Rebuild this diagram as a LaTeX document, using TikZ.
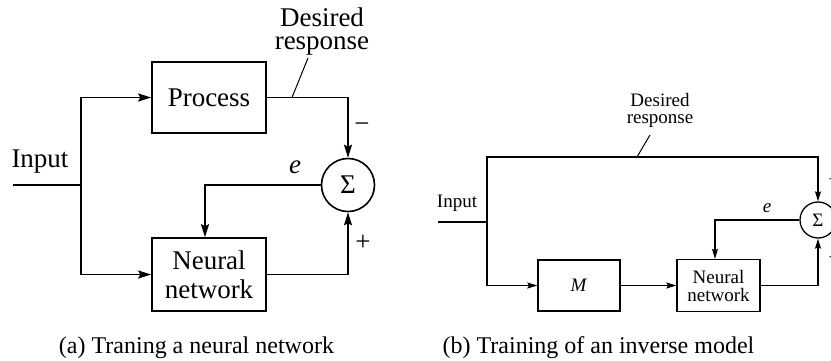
\documentclass[tikz,border=0pt]{standalone}
\usepackage{fontspec}
\setmainfont{Liberation Serif}
\usetikzlibrary{arrows.meta}
\begin{document}
\begin{tikzpicture}[x=1pt,y=-1pt,
  bigtxt/.style={font=\fontsize{27}{23}\selectfont, inner sep=0pt},
  smalltxt/.style={font=\fontsize{19}{17}\selectfont, inner sep=0pt},
  captxt/.style={font=\fontsize{24}{26}\selectfont, inner sep=0pt},
  blockA/.style={draw, line width=1.6pt, font=\fontsize{27}{29}\selectfont, inner sep=0pt, align=center},
  blockB/.style={draw, line width=1.3pt, font=\fontsize{19}{18}\selectfont, inner sep=0pt, align=center},
  sumA/.style={draw, circle, line width=1.6pt, minimum size=53pt, bigtxt},
  sumB/.style={draw, circle, line width=1.3pt, minimum size=36pt, smalltxt},
  lineA/.style={line width=1.6pt},
  lineB/.style={line width=1.3pt},
  arrA/.style={lineA, -{Stealth[length=13pt,width=8pt,inset=2pt]}},
  arrB/.style={lineB, -{Stealth[length=10pt,width=6pt,inset=1.5pt]}},
  lead/.style={line width=1pt}
]
\useasboundingbox (0,0) rectangle (831,360);
\clip (0,0) rectangle (831,360);
\fill[white] (0,0) rectangle (831,360);

% ---------------- (a) ----------------
\node[blockA, minimum width=114pt, minimum height=71pt] (proc) at (209,97.5) {Process};
\node[blockA, minimum width=114pt, minimum height=73pt] (nn) at (209,274.5) {Neural\\network};
\node[sumA] (sum) at (348,185) {Σ};
\node[bigtxt] (inA) at (40,162) {Input};
\node[bigtxt, align=center] (desA) at (322,32) {Desired\\response};
\node[bigtxt] (eA) at (295,167) {\textit{e}};
\node[bigtxt] (minA) at (362,128) {−};
\node[bigtxt] (plusA) at (363,243) {+};
\node[captxt] (capA) at (196.5,348) {(a) Traning a neural network};

\coordinate (in0) at (13,185);
\coordinate (jA) at (81,185);
\coordinate (fbA) at (205,185);
\coordinate (ldA) at (292,97.5);
\coordinate (ldA2) at (308,58);

\draw[lineA] (in0) -- (jA);
\draw[arrA] (jA) |- (proc.west);
\draw[arrA] (jA) |- (nn.west);
\draw[arrA] (proc.east) -| (sum.north);
\draw[arrA] (nn.east) -| (sum.south);
\draw[arrA] (sum.west) -- (fbA) -- (fbA |- nn.north);
\draw[lead] (ldA) -- (ldA2);

% ---------------- (b) ----------------
\node[blockB, minimum width=82pt, minimum height=51pt] (mb) at (579,285.5) {\textit{M}};
\node[blockB, minimum width=83pt, minimum height=52pt] (nn2) at (718.5,285.5) {Neural\\network};
\node[sumB] (sum2) at (818,220) {Σ};
\node[smalltxt] (inB) at (457,203) {Input};
\node[smalltxt, align=center] (desB) at (660,110) {Desired\\response};
\node[smalltxt] (eB) at (767,208) {\textit{e}};
\node[smalltxt] (minB) at (834,182) {−};
\node[smalltxt] (plusB) at (834,258) {+};
\node[captxt] (capB) at (598.5,348) {(b) Training of an inverse model};

\coordinate (in0b) at (438,222);
\coordinate (jB) at (487,222);
\coordinate (topB) at (487,157);
\coordinate (fbB) at (715,220);
\coordinate (ldB) at (637,157);
\coordinate (ldB2) at (650,135);

\draw[lineB] (in0b) -- (jB);
\draw[arrB] (jB) -- (topB) -| (sum2.north);
\draw[arrB] (jB) |- (mb.west);
\draw[arrB] (mb.east) -- (nn2.west);
\draw[arrB] (nn2.east) -| (sum2.south);
\draw[arrB] (sum2.west) -- (fbB) -- (fbB |- nn2.north);
\draw[lead] (ldB) -- (ldB2);
\end{tikzpicture}
\end{document}
